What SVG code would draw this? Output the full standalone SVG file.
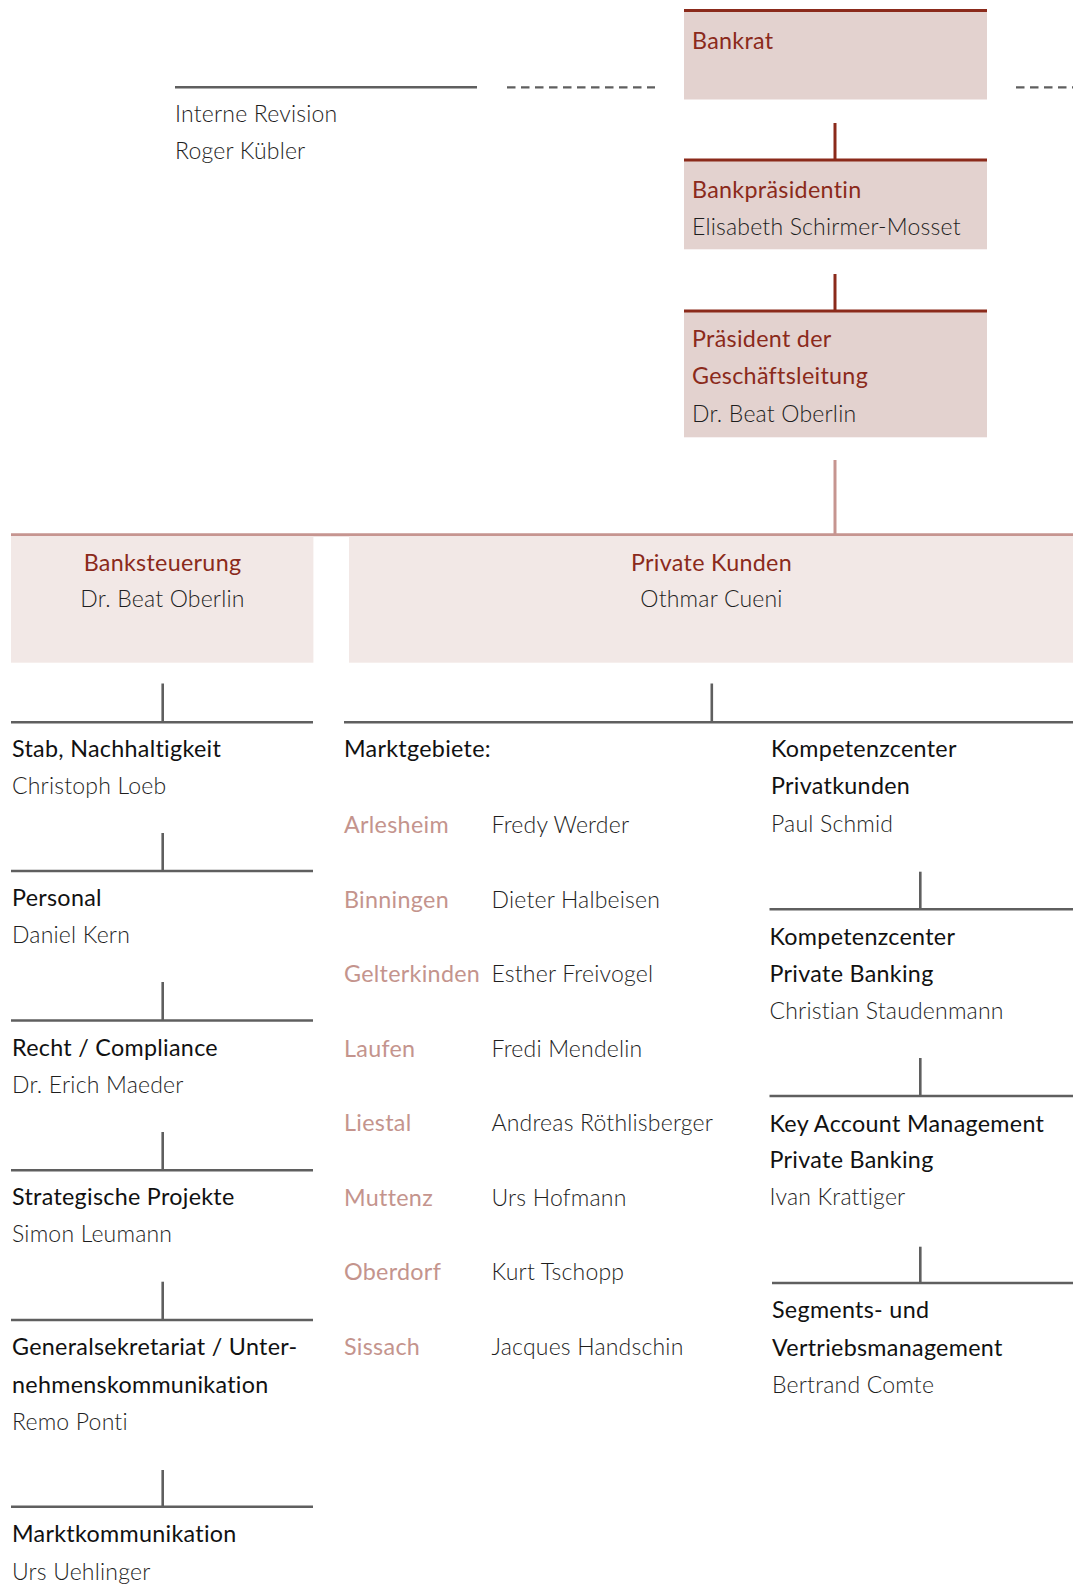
<svg xmlns="http://www.w3.org/2000/svg" width="1073" height="1587" viewBox="0 0 1073 1587">
<style>
  text { font-family: Lato, "Liberation Sans", sans-serif; font-size: 23.3px; letter-spacing: 0.3px; }
  .t { fill: #8B2A1B; font-weight: 400; }
  .n { fill: #1E1E1E; font-weight: 300; font-size: 23px; letter-spacing: 0.2px; }
  .h { fill: #111111; font-weight: 400; }
  .loc { fill: #C4948D; font-weight: 400; }
  .mid { text-anchor: middle; }
  .top { fill: #E3D2CF; }
  .low { fill: #F2E8E6; }
  .red { stroke: #8B2A1B; stroke-width: 3; fill: none; }
  .pink { stroke: #C69590; stroke-width: 3; fill: none; }
  .gray { stroke: #5F5F5F; stroke-width: 2.6; fill: none; }
  .dash { stroke: #5F5F5F; stroke-width: 2.2; stroke-dasharray: 8.5 5.5; fill: none; }
</style>
<rect width="1073" height="1587" fill="#FFFFFF"/>

<g id="connectors">
  <line class="gray" x1="175" y1="87.3" x2="477" y2="87.3"/>
  <line class="dash" x1="507" y1="87.3" x2="655" y2="87.3"/>
  <line class="dash" x1="1016" y1="87.3" x2="1073" y2="87.3"/>
  <line class="red" x1="835" y1="123" x2="835" y2="160"/>
  <line class="red" x1="835" y1="274" x2="835" y2="311"/>
  <line class="pink" x1="835" y1="460" x2="835" y2="535"/>
  <line class="pink" x1="11" y1="534.7" x2="1073" y2="534.7"/>
  <!-- left column -->
  <line class="gray" x1="162.7" y1="683.5" x2="162.7" y2="722.3"/>
  <line class="gray" x1="11" y1="722.3" x2="313" y2="722.3"/>
  <line class="gray" x1="162.7" y1="833" x2="162.7" y2="871"/>
  <line class="gray" x1="11" y1="871" x2="313" y2="871"/>
  <line class="gray" x1="162.7" y1="982" x2="162.7" y2="1020.5"/>
  <line class="gray" x1="11" y1="1020.5" x2="313" y2="1020.5"/>
  <line class="gray" x1="162.7" y1="1132" x2="162.7" y2="1170.3"/>
  <line class="gray" x1="11" y1="1170.3" x2="313" y2="1170.3"/>
  <line class="gray" x1="162.7" y1="1281.7" x2="162.7" y2="1320"/>
  <line class="gray" x1="11" y1="1320" x2="313" y2="1320"/>
  <line class="gray" x1="162.7" y1="1470" x2="162.7" y2="1506.7"/>
  <line class="gray" x1="11" y1="1506.7" x2="313" y2="1506.7"/>
  <!-- middle / right -->
  <line class="gray" x1="711.8" y1="683.5" x2="711.8" y2="722.3"/>
  <line class="gray" x1="344" y1="722.3" x2="1073" y2="722.3"/>
  <line class="gray" x1="920.3" y1="871.7" x2="920.3" y2="909.3"/>
  <line class="gray" x1="769.5" y1="909.3" x2="1073" y2="909.3"/>
  <line class="gray" x1="920.3" y1="1058" x2="920.3" y2="1096"/>
  <line class="gray" x1="769.5" y1="1096" x2="1073" y2="1096"/>
  <line class="gray" x1="920.3" y1="1246.7" x2="920.3" y2="1283"/>
  <line class="gray" x1="772" y1="1283" x2="1073" y2="1283"/>
</g>

<g id="interne-revision">
  <text class="n" x="175" y="122">Interne Revision</text>
  <text class="n" x="175" y="159">Roger Kübler</text>
</g>

<g id="bankrat">
  <rect class="top" x="684" y="11" width="303" height="88.5"/>
  <line class="red" x1="684" y1="10.5" x2="987" y2="10.5"/>
  <text class="t" x="692" y="49">Bankrat</text>
</g>

<g id="bankpraesidentin">
  <rect class="top" x="684" y="160" width="303" height="89.3"/>
  <line class="red" x1="684" y1="160" x2="987" y2="160"/>
  <text class="t" x="692" y="198">Bankpräsidentin</text>
  <text class="n" x="692" y="235">Elisabeth Schirmer-Mosset</text>
</g>

<g id="praesident-gl">
  <rect class="top" x="684" y="311" width="303" height="126.3"/>
  <line class="red" x1="684" y1="311" x2="987" y2="311"/>
  <text class="t" x="692" y="346.5">Präsident der</text>
  <text class="t" x="692" y="383.5">Geschäftsleitung</text>
  <text class="n" x="692" y="421.5">Dr. Beat Oberlin</text>
</g>

<g id="banksteuerung">
  <rect class="low" x="11" y="536.2" width="302.4" height="126.5"/>
  <text class="t mid" x="162.5" y="570.5">Banksteuerung</text>
  <text class="n mid" x="162.5" y="607">Dr. Beat Oberlin</text>
</g>

<g id="private-kunden">
  <rect class="low" x="349" y="536.2" width="724" height="126.5"/>
  <text class="t mid" x="711.5" y="570.5">Private Kunden</text>
  <text class="n mid" x="711.5" y="607">Othmar Cueni</text>
</g>

<g id="stab">
  <text class="h" x="12" y="757">Stab, Nachhaltigkeit</text>
  <text class="n" x="12" y="794">Christoph Loeb</text>
</g>
<g id="personal">
  <text class="h" x="12" y="906">Personal</text>
  <text class="n" x="12" y="943">Daniel Kern</text>
</g>
<g id="recht">
  <text class="h" x="12" y="1055.5">Recht / Compliance</text>
  <text class="n" x="12" y="1092.5">Dr. Erich Maeder</text>
</g>
<g id="strategische-projekte">
  <text class="h" x="12" y="1205">Strategische Projekte</text>
  <text class="n" x="12" y="1242">Simon Leumann</text>
</g>
<g id="generalsekretariat">
  <text class="h" x="12" y="1355">Generalsekretariat / Unter-</text>
  <text class="h" x="12" y="1392.5">nehmenskommunikation</text>
  <text class="n" x="12" y="1430">Remo Ponti</text>
</g>
<g id="marktkommunikation">
  <text class="h" x="12" y="1542">Marktkommunikation</text>
  <text class="n" x="12" y="1580">Urs Uehlinger</text>
</g>

<g id="marktgebiete">
  <text class="h" x="344" y="757">Marktgebiete:</text>
  <text class="loc" x="344" y="833.3">Arlesheim</text>
  <text class="n" x="491.5" y="833.3">Fredy Werder</text>
  <text class="loc" x="344" y="907.8">Binningen</text>
  <text class="n" x="491.5" y="907.8">Dieter Halbeisen</text>
  <text class="loc" x="344" y="982.3">Gelterkinden</text>
  <text class="n" x="491.5" y="982.3">Esther Freivogel</text>
  <text class="loc" x="344" y="1056.8">Laufen</text>
  <text class="n" x="491.5" y="1056.8">Fredi Mendelin</text>
  <text class="loc" x="344" y="1131.3">Liestal</text>
  <text class="n" x="491.5" y="1131.3">Andreas Röthlisberger</text>
  <text class="loc" x="344" y="1205.8">Muttenz</text>
  <text class="n" x="491.5" y="1205.8">Urs Hofmann</text>
  <text class="loc" x="344" y="1280.3">Oberdorf</text>
  <text class="n" x="491.5" y="1280.3">Kurt Tschopp</text>
  <text class="loc" x="344" y="1354.8">Sissach</text>
  <text class="n" x="491.5" y="1354.8">Jacques Handschin</text>
</g>

<g id="kc-privatkunden">
  <text class="h" x="771" y="757">Kompetenzcenter</text>
  <text class="h" x="771" y="794">Privatkunden</text>
  <text class="n" x="771" y="832">Paul Schmid</text>
</g>
<g id="kc-private-banking">
  <text class="h" x="769.5" y="945">Kompetenzcenter</text>
  <text class="h" x="769.5" y="981.7">Private Banking</text>
  <text class="n" x="769.5" y="1019.3">Christian Staudenmann</text>
</g>
<g id="key-account">
  <text class="h" x="769.5" y="1131.7">Key Account Management</text>
  <text class="h" x="769.5" y="1168.3">Private Banking</text>
  <text class="n" x="769.5" y="1205">Ivan Krattiger</text>
</g>
<g id="segments">
  <text class="h" x="772" y="1318">Segments- und</text>
  <text class="h" x="772" y="1355.5">Vertriebsmanagement</text>
  <text class="n" x="772" y="1393">Bertrand Comte</text>
</g>
</svg>
